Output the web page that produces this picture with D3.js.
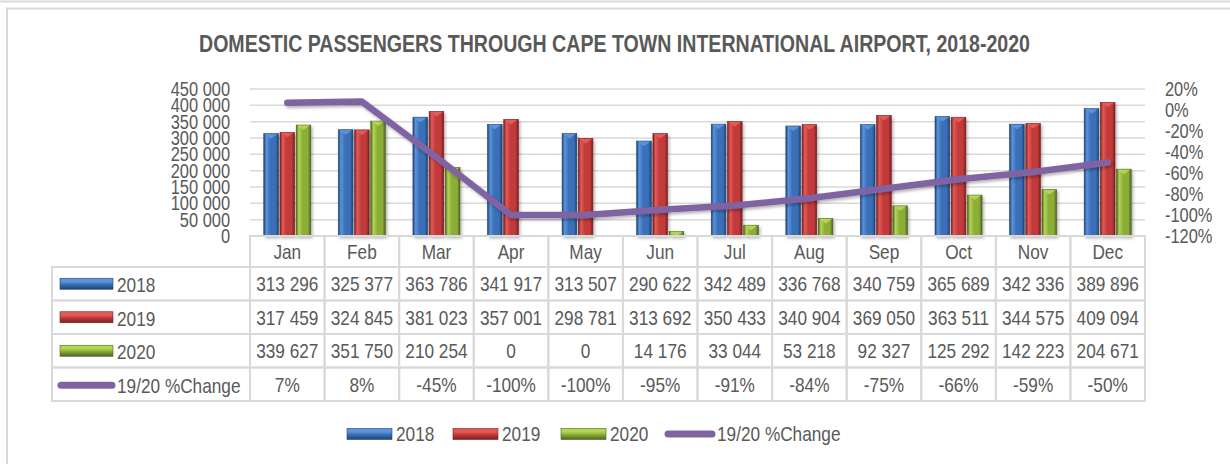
<!DOCTYPE html>
<html>
<head>
<meta charset="utf-8">
<script src="https://cdn.jsdelivr.net/npm/d3@7"></script>
<style>
  body { margin: 0; background: #ffffff; }
  text { font-family: "Liberation Sans", Arial, sans-serif; fill: #595959; }
</style>
</head>
<body>
<script>

// chart values
const months = ["Jan", "Feb", "Mar", "Apr", "May", "Jun", "Jul", "Aug", "Sep", "Oct", "Nov", "Dec"];
const years = ["2018", "2019", "2020"];
const pax2018 = [313296, 325377, 363786, 341917, 313507, 290622, 342489, 336768, 340759, 365689, 342336, 389896];
const pax2019 = [317459, 324845, 381023, 357001, 298781, 313692, 350433, 340904, 369050, 363511, 344575, 409094];
const pax2020 = [339627, 351750, 210254, 0, 0, 14176, 33044, 53218, 92327, 125292, 142223, 204671];
const pctChange = [0.07, 0.08, -0.45, -1.00, -1.00, -0.95, -0.91, -0.84, -0.75, -0.66, -0.59, -0.50];
const lineName = "19/20 %Change";
const leftTicks = [0, 50000, 100000, 150000, 200000, 250000, 300000, 350000, 400000, 450000];
const rightTicks = [0.2, 0, -0.2, -0.4, -0.6, -0.8, -1.0, -1.2];

function init() {

  const W = 1230, H = 464;
  const series = [pax2018, pax2019, pax2020];

  // colours: base, light, dark
  const pal = {
    "2018": ["#3a70b8", "#5c93da", "#1e4478"],
    "2019": ["#c23a3a", "#e35a58", "#7a1f1f"],
    "2020": ["#8cae38", "#b3d552", "#4d6420"]
  };
  const purple = "#8064a2";
  const gridCol = "#d9d9d9";

  // number formats with plain hyphen minus and space thousands
  const loc = d3.formatLocale({ decimal: ".", thousands: " ", grouping: [3], currency: ["", ""], minus: "-" });
  const fmtNum = loc.format(",");
  const fmtPct = loc.format(".0%");

  // no narrow font installed, so squeeze text to look like Arial Narrow
  function narrow(sel) {
    sel.each(function () {
      const L = this.getComputedTextLength();
      d3.select(this)
        .attr("textLength", L * 0.82)
        .attr("lengthAdjust", "spacingAndGlyphs");
    });
  }

  const svg = d3.select("body").append("svg")
    .attr("width", W)
    .attr("height", H)
  ;

  const defs = svg.append("defs");

  // bar gradients (horizontal, cylinder-ish) and legend key gradients (vertical)
  years.forEach(yr => {
    const c = pal[yr];
    const g = defs.append("linearGradient").attr("id", "bar" + yr)
      .attr("x1", 0).attr("x2", 1).attr("y1", 0).attr("y2", 0);
    g.append("stop").attr("offset", "0%").attr("stop-color", c[2]);
    g.append("stop").attr("offset", "18%").attr("stop-color", c[1]);
    g.append("stop").attr("offset", "45%").attr("stop-color", c[0]);
    g.append("stop").attr("offset", "80%").attr("stop-color", c[0]);
    g.append("stop").attr("offset", "100%").attr("stop-color", c[2]);

    const k = defs.append("linearGradient").attr("id", "key" + yr)
      .attr("x1", 0).attr("x2", 0).attr("y1", 0).attr("y2", 1);
    k.append("stop").attr("offset", "0%").attr("stop-color", c[1]);
    k.append("stop").attr("offset", "30%").attr("stop-color", c[1]);
    k.append("stop").attr("offset", "55%").attr("stop-color", c[0]);
    k.append("stop").attr("offset", "100%").attr("stop-color", c[2]);
  });

  const shadow = defs.append("filter").attr("id", "shadow")
    .attr("x", "-10%").attr("y", "-20%").attr("width", "130%").attr("height", "160%");
  shadow.append("feDropShadow")
    .attr("dx", 1.5).attr("dy", 2).attr("stdDeviation", 1.5)
    .attr("flood-color", "#000").attr("flood-opacity", 0.3);

  // outer frame lines
  svg.append("line")
    .attr("x1", 0).attr("x2", W).attr("y1", 1.5).attr("y2", 1.5)
    .attr("stroke", "#d9d9d9").attr("stroke-width", 2)
  ;
  svg.append("rect")
    .attr("x", 7).attr("y", 8.5)
    .attr("width", W).attr("height", H)
    .attr("fill", "none")
    .attr("stroke", "#d9d9d9").attr("stroke-width", 2)
  ;

  // title
  svg.append("text")
    .attr("x", 614.5)
    .attr("y", 52)
    .attr("text-anchor", "middle")
    .attr("textLength", 831)
    .attr("lengthAdjust", "spacingAndGlyphs")
    .style("font-size", "23px")
    .style("font-weight", "bold")
    .text("DOMESTIC PASSENGERS THROUGH CAPE TOWN INTERNATIONAL AIRPORT, 2018-2020")
  ;

  // scales
  const plotL = 250, plotR = 1145, plotT = 89, plotB = 236;
  const x0 = d3.scaleBand().domain(months).range([plotL, plotR]);
  const x1 = d3.scaleBand().domain(years).range([0, x0.bandwidth()])
    .paddingInner(0.1).paddingOuter(0.85);
  const y = d3.scaleLinear().domain([0, 450000]).range([plotB, plotT]);
  const y2 = d3.scaleLinear().domain([-1.2, 0.2]).range([plotB, plotT]);

  // gridlines
  svg.append("g")
    .selectAll("line")
    .data(leftTicks)
    .join("line")
    .attr("x1", plotL).attr("x2", plotR)
    .attr("y1", d => y(d)).attr("y2", d => y(d))
    .attr("stroke", gridCol).attr("stroke-width", 1.5)
  ;

  // left axis
  const axL = svg.append("g")
    .attr("transform", `translate(${plotL},0)`)
    .call(d3.axisLeft(y).tickValues(leftTicks).tickSize(0).tickPadding(20).tickFormat(fmtNum));
  axL.select(".domain").remove();
  axL.attr("font-family", null).attr("font-size", null);
  axL.selectAll("text").style("font-size", "20px").attr("fill", "#595959").call(narrow);

  // right axis
  const axR = svg.append("g")
    .attr("transform", `translate(${plotR},0)`)
    .call(d3.axisRight(y2).tickValues(rightTicks).tickSize(0).tickPadding(20).tickFormat(fmtPct));
  axR.select(".domain").remove();
  axR.attr("font-family", null).attr("font-size", null);
  axR.selectAll("text").style("font-size", "20px").attr("fill", "#595959").call(narrow);

  // bars
  const bw = x1.bandwidth();
  years.forEach((yr, si) => {
    const g = svg.append("g").attr("filter", "url(#shadow)");
    const vals = series[si];
    g.selectAll("rect")
      .data(months)
      .join("rect")
      .attr("x", (m, i) => x0(m) + x1(yr))
      .attr("y", (m, i) => y(vals[i]))
      .attr("width", bw)
      .attr("height", (m, i) => plotB - y(vals[i]))
      .attr("fill", `url(#bar${yr})`)
      .attr("stroke", pal[yr][2])
      .attr("stroke-width", 0.6)
    ;
    // little bevel cap on top of each bar
    g.selectAll("path")
      .data(months.filter((m, i) => vals[i] > 0))
      .join("path")
      .attr("d", m => {
        const i = months.indexOf(m);
        const bx = x0(m) + x1(yr), by = y(vals[i]);
        const hh = Math.min(5, plotB - by);
        return `M${bx + 1},${by + 0.5} L${bx + bw - 1},${by + 0.5} L${bx + bw / 2},${by + hh} Z`;
      })
      .attr("fill", pal[yr][1])
    ;
  });

  // % change line
  const line = d3.line()
    .x((d, i) => x0(months[i]) + x0.bandwidth() / 2)
    .y(d => y2(d));
  svg.append("path")
    .datum(pctChange)
    .attr("d", line)
    .attr("fill", "none")
    .attr("stroke", purple)
    .attr("stroke-width", 6.5)
    .attr("stroke-linecap", "round")
    .attr("stroke-linejoin", "round")
    .attr("filter", "url(#shadow)")
  ;

  // data table
  const rows = ["2018", "2019", "2020", "pct"];
  const rowY = d3.scaleBand().domain(rows).range([267, 401]);
  const tableL = 52;
  const tab = svg.append("g");

  // header row (months)
  tab.selectAll("rect.hdr")
    .data(months)
    .join("rect")
    .attr("class", "hdr")
    .attr("x", m => x0(m)).attr("y", plotB)
    .attr("width", x0.bandwidth()).attr("height", rowY.range()[0] - plotB)
    .attr("fill", "none").attr("stroke", gridCol).attr("stroke-width", 2)
  ;
  tab.selectAll("text.hdr")
    .data(months)
    .join("text")
    .attr("class", "hdr")
    .attr("x", m => x0(m) + x0.bandwidth() / 2)
    .attr("y", (plotB + rowY.range()[0]) / 2)
    .attr("dy", "0.35em")
    .attr("text-anchor", "middle")
    .style("font-size", "21px")
    .text(m => m)
    .call(narrow)
  ;

  // body rows
  const rowVals = [pax2018, pax2019, pax2020, pctChange];
  rows.forEach((r, ri) => {
    const ry = rowY(r), rh = rowY.bandwidth();
    tab.append("rect")
      .attr("x", tableL).attr("y", ry)
      .attr("width", plotL - tableL).attr("height", rh)
      .attr("fill", "none").attr("stroke", gridCol).attr("stroke-width", 2)
    ;
    tab.selectAll("rect.r" + ri)
      .data(months)
      .join("rect")
      .attr("class", "r" + ri)
      .attr("x", m => x0(m)).attr("y", ry)
      .attr("width", x0.bandwidth()).attr("height", rh)
      .attr("fill", "none").attr("stroke", gridCol).attr("stroke-width", 2)
    ;
    tab.selectAll("text.r" + ri)
      .data(rowVals[ri])
      .join("text")
      .attr("class", "r" + ri)
      .attr("x", (d, i) => x0(months[i]) + x0.bandwidth() / 2)
      .attr("y", ry + rh / 2)
      .attr("dy", "0.35em")
      .attr("text-anchor", "middle")
      .style("font-size", "21px")
      .text(d => r === "pct" ? fmtPct(d) : fmtNum(d))
      .call(narrow)
    ;

    // legend key inside the table
    const cy = ry + rh / 2;
    if (r === "pct") {
      tab.append("line")
        .attr("x1", 61).attr("x2", 112).attr("y1", cy + 1).attr("y2", cy + 1)
        .attr("stroke", purple).attr("stroke-width", 7).attr("stroke-linecap", "round")
      ;
    } else {
      tab.append("rect")
        .attr("x", 60).attr("y", cy - 5.5)
        .attr("width", 53).attr("height", 11)
        .attr("fill", `url(#key${r})`)
        .attr("stroke", pal[r][2]).attr("stroke-width", 0.6)
      ;
    }
    tab.append("text")
      .attr("x", 117).attr("y", cy + 1)
      .attr("dy", "0.35em")
      .style("font-size", "21px")
      .text(r === "pct" ? lineName : r)
      .call(narrow)
    ;
  });

  // bottom legend
  const leg = svg.append("g");
  const legY = 434;
  const legX = { "2018": 347, "2019": 453, "2020": 561 };
  years.forEach(yr => {
    leg.append("rect")
      .attr("x", legX[yr]).attr("y", legY - 5.5)
      .attr("width", 45).attr("height", 11)
      .attr("fill", `url(#key${yr})`)
      .attr("stroke", pal[yr][2]).attr("stroke-width", 0.6)
    ;
    leg.append("text")
      .attr("x", legX[yr] + 49).attr("y", legY)
      .attr("dy", "0.35em")
      .style("font-size", "21px")
      .text(yr)
      .call(narrow)
    ;
  });
  leg.append("line")
    .attr("x1", 668).attr("x2", 712).attr("y1", legY).attr("y2", legY)
    .attr("stroke", purple).attr("stroke-width", 7).attr("stroke-linecap", "round")
  ;
  leg.append("text")
    .attr("x", 717).attr("y", legY)
    .attr("dy", "0.35em")
    .style("font-size", "21px")
    .text(lineName)
    .call(narrow)
  ;
}

init();
</script>
</body>
</html>
